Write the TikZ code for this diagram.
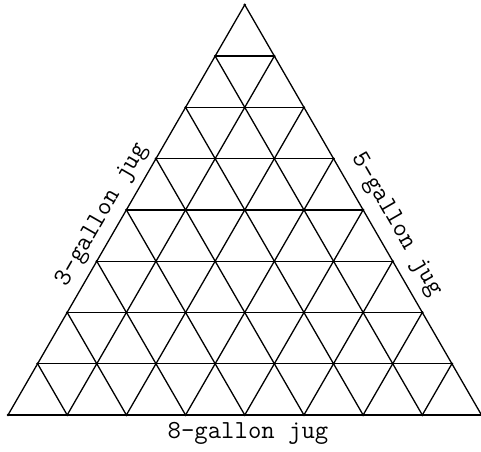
\documentclass[tikz,border=0pt]{standalone}
\usepackage{fontspec}
\usetikzlibrary{calc}
\tikzset{
    grid line/.style={draw=black, line width=1.3pt, line cap=round},
    jug label/.style={font=\ttfamily\fontsize{26}{26}\selectfont, inner sep=0pt}
}
\begin{document}
\begin{tikzpicture}[x=1pt, y=-1pt]
    \useasboundingbox (0,0) rectangle (481,451);
    % corners of the triangle
    \coordinate (A) at (8,415);
    \coordinate (B) at (481.5,415);
    \coordinate (C) at (244.75,4.8);

    % grid lines, k = 0 gives the three sides
    \foreach \k in {0,...,7}{
        \draw[grid line] ($(A)!\k/8!(C)$) -- ($(B)!\k/8!(C)$);
        \draw[grid line] ($(A)!\k/8!(B)$) -- ($(C)!\k/8!(B)$);
        \draw[grid line] ($(B)!\k/8!(A)$) -- ($(C)!\k/8!(A)$);
    }

    % lattice points
    \foreach \j in {0,...,8}{
        \pgfmathtruncatemacro{\imax}{8-\j}
        \foreach \i in {0,...,\imax}{
            \fill ({8+59.19*(\i+\j/2)},{415-51.27*\j}) circle[radius=1.4pt];
        }
    }

    % labels
    \node[jug label, rotate=60] (three) at (102,215) {3-gallon jug};
    \node[jug label, rotate=-60] (five) at (396,225) {5-gallon jug};
    \node[jug label, anchor=base] (eight) at (248,438) {8-gallon jug};
\end{tikzpicture}
\end{document}
